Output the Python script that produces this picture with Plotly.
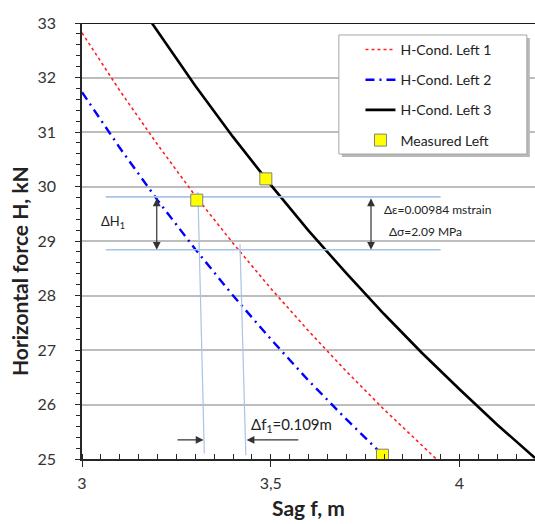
import plotly.graph_objects as go

# Condition curves: sag f (m) vs horizontal force H (kN)
sag_left1 = [3.00, 3.10, 3.20, 3.30, 3.40, 3.50, 3.60, 3.70, 3.80, 3.94]
force_left1 = [32.82, 31.76, 30.77, 29.83, 28.96, 28.13, 27.35, 26.61, 25.91, 24.99]

sag_left2 = [3.00, 3.10, 3.20, 3.30, 3.40, 3.50, 3.60, 3.70, 3.796]
force_left2 = [31.73, 30.71, 29.75, 28.85, 28.00, 27.20, 26.44, 25.73, 25.08]

sag_left3 = [3.185, 3.30, 3.40, 3.50, 3.60, 3.70, 3.80, 3.90, 4.00, 4.10, 4.20]
force_left3 = [33.00, 31.85, 30.91, 30.03, 29.19, 28.41, 27.66, 26.95, 26.28, 25.63, 25.02]

# Measured points
sag_measured = [3.304, 3.487, 3.796]
force_measured = [29.75, 30.14, 25.07]

# Construction lines for the differences
dh_levels = [29.81, 28.84]          # horizontal lines bounding ΔH1
dh_span = [3.063, 3.95]
df_line1 = ([3.307, 3.324], [29.90, 25.10])
df_line2 = ([3.4185, 3.434], [28.94, 25.07])

x_ticks = [3, 3.5, 4]
x_ticklabels = ["3", "3,5", "4"]
y_ticks = [25, 26, 27, 28, 29, 30, 31, 32, 33]

FONT = "Lato"
guide = "#a9c4e4"
arrow_col = "#333333"

fig = go.Figure()

fig.add_trace(go.Scatter(x=sag_left1, y=force_left1, mode="lines", name="H-Cond. Left 1",
                         line=dict(color="#ff2020", width=1.6, dash="dot"), legendgroup="a"))
fig.add_trace(go.Scatter(x=sag_left2, y=force_left2, mode="lines", name="H-Cond. Left 2",
                         line=dict(color="#0000ff", width=2.4, dash="9px,5px,2px,5px"), legendgroup="b"))
fig.add_trace(go.Scatter(x=sag_left3, y=force_left3, mode="lines", name="H-Cond. Left 3",
                         line=dict(color="#000000", width=2.6), legendgroup="c"))

# construction lines (not in legend)
for lvl in dh_levels:
    fig.add_trace(go.Scatter(x=dh_span, y=[lvl, lvl], mode="lines", showlegend=False,
                             line=dict(color=guide, width=1.6), hoverinfo="skip"))
for xs, ys in (df_line1, df_line2):
    fig.add_trace(go.Scatter(x=xs, y=ys, mode="lines", showlegend=False,
                             line=dict(color=guide, width=1.2), hoverinfo="skip"))

fig.add_trace(go.Scatter(x=sag_measured, y=force_measured, mode="markers", name="Measured Left",
                         marker=dict(symbol="square", size=12, color="#ffff00",
                                     line=dict(color="#808080", width=1)), legendgroup="d"))

# legend frame with a soft shadow
lx0, lx1, ly0, ly1 = 0.567, 0.982, 0.6995, 0.9725
fig.add_shape(type="rect", xref="paper", yref="paper", x0=lx0 + 3 / 453, x1=lx1 + 3 / 453,
              y0=ly0 - 3 / 436, y1=ly1 - 3 / 436, fillcolor="#b8b8b8",
              line=dict(width=0), layer="above")
fig.add_shape(type="rect", xref="paper", yref="paper", x0=lx0, x1=lx1, y0=ly0, y1=ly1,
              fillcolor="white", line=dict(color="#a6a6a6", width=1), layer="above")

# top frame line
fig.add_shape(type="line", xref="paper", yref="y", x0=0, x1=1, y0=33, y1=33,
              line=dict(color="#1a1a1a", width=2))

annotations = []
# ΔH1 double arrows
for xa in (3.198, 3.7656):
    annotations.append(dict(x=xa, y=dh_levels[1], ax=xa, ay=dh_levels[0], xref="x", yref="y",
                            axref="x", ayref="y", text="", showarrow=True, arrowhead=2,
                            arrowsize=1.3, arrowwidth=1.2, arrowcolor=arrow_col,
                            arrowside="end+start", standoff=0, startstandoff=0))
# Δf1 arrows
annotations.append(dict(x=3.322, y=25.35, ax=3.249, ay=25.35, xref="x", yref="y", axref="x",
                        ayref="y", text="", showarrow=True, arrowhead=2, arrowsize=1.3,
                        arrowwidth=1.2, arrowcolor=arrow_col, standoff=0))
annotations.append(dict(x=3.436, y=25.35, ax=3.577, ay=25.35, xref="x", yref="y", axref="x",
                        ayref="y", text="", showarrow=True, arrowhead=2, arrowsize=1.3,
                        arrowwidth=1.2, arrowcolor=arrow_col, standoff=0))

annotations += [
    dict(x=3.082, y=29.35, text="ΔH<sub>1</sub>", showarrow=False, xref="x", yref="y",
         font=dict(family=FONT, size=13, color="#222222")),
    dict(x=3.795, y=29.58, text="Δε=0.00984 mstrain", showarrow=False, xref="x", yref="y",
         xanchor="left", font=dict(family=FONT, size=12, color="#222222")),
    dict(x=3.808, y=29.17, text="Δσ=2.09 MPa", showarrow=False, xref="x", yref="y",
         xanchor="left", font=dict(family=FONT, size=12, color="#222222")),
    dict(x=3.443, y=25.62, text="Δf<sub>1</sub>=0.109m", showarrow=False, xref="x", yref="y",
         xanchor="left", font=dict(family=FONT, size=15, color="#222222")),
    # vertical axis title
    dict(x=-63 / 453, y=(459 - 271) / 436, xref="paper", yref="paper", textangle=-90,
         xanchor="center", yanchor="middle",
         text="<b>Horizontal force H, kN</b>", showarrow=False,
         font=dict(family=FONT, size=21, color="#222222")),
]

fig.update_layout(
    width=535, height=524,
    margin=dict(l=82, r=0, t=23, b=65),
    paper_bgcolor="white", plot_bgcolor="white",
    font=dict(family=FONT, color="#404040"),
    showlegend=True,
    legend=dict(x=0.575, y=0.975, xanchor="left", yanchor="top", bgcolor="rgba(0,0,0,0)",
                borderwidth=0, font=dict(family=FONT, size=14, color="#222222"),
                traceorder="grouped", tracegroupgap=9, indentation=18),
    annotations=annotations,
    xaxis=dict(range=[3, 4.2], tickvals=x_ticks, ticktext=x_ticklabels,
               showgrid=False, zeroline=False, showline=True, linecolor="#262626", linewidth=1.6,
               ticks="outside", ticklen=6, tickcolor="#262626", tickwidth=1,
               tickfont=dict(family=FONT, size=16, color="#333333"), ticklabelstandoff=3,
               minor=dict(dtick=0.05, tick0=3, ticks="inside", ticklen=5, tickcolor="#262626",
                          showgrid=False),
               title=dict(text="<b>Sag f, m</b>", font=dict(family=FONT, size=21, color="#222222"),
                          standoff=10)),
    yaxis=dict(range=[25, 33], tickvals=y_ticks,
               showgrid=True, gridcolor="#bdbdbd", gridwidth=1.5, zeroline=False,
               showline=True, linecolor="#262626", linewidth=1.6,
               ticks="outside", ticklen=5, tickcolor="#262626", tickwidth=1,
               tickfont=dict(family=FONT, size=16, color="#333333"), ticklabelstandoff=16,
               minor=dict(dtick=0.2, tick0=25, ticks="outside", ticklen=4, tickcolor="#262626",
                          showgrid=False)),
)

fig.write_html("out.html")
